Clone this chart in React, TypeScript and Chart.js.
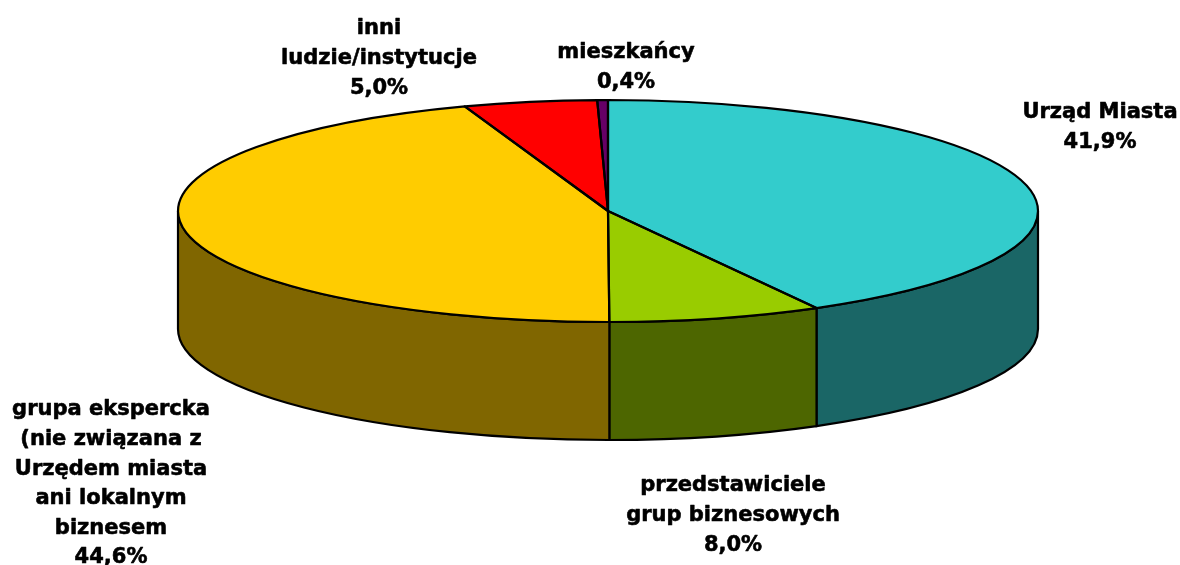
import React, { useEffect, useRef } from "react";
import { Chart, registerables } from "chart.js";

Chart.register(...registerables);

const categories = [
  "Urząd Miasta",
  "przedstawiciele\ngrup biznesowych",
  "grupa ekspercka\n(nie związana z\nUrzędem miasta\nani lokalnym\nbiznesem",
  "inni\nludzie/instytucje",
  "mieszkańcy",
];
const shares = [41.9, 8.0, 44.6, 5.0, 0.4];
const topColors = ["#33CCCC", "#99CC00", "#FFCC00", "#FF0000", "#660066"];
const wallColors = ["#1A6666", "#4D6600", "#806600", "#800000", "#330033"];

const RADIUS_X = 430;
const RADIUS_Y = 111;
const DEPTH = 118;
const FONT = 'bold 21px "DejaVu Sans"';
const LINE_HEIGHT = 29.6;
const labelAnchors = [
  { x: 1100, y: 113 },
  { x: 733, y: 486 },
  { x: 111, y: 410 },
  { x: 379, y: 29 },
  { x: 626, y: 53 },
];

const pie3d = {
  id: "pie3d",
  beforeDatasetDraw(chart: any) {
    const ctx = chart.ctx;
    const arcs = chart.getDatasetMeta(0).data;
    ctx.save();
    ctx.lineWidth = 2.2;
    ctx.strokeStyle = "#000";
    arcs.forEach((arc: any, i: number) => {
      const a = Math.max(arc.startAngle, 0);
      const b = Math.min(arc.endAngle, Math.PI);
      if (b <= a) return;
      ctx.beginPath();
      ctx.ellipse(arc.x, arc.y, RADIUS_X, RADIUS_Y, 0, a, b);
      ctx.ellipse(arc.x, arc.y + DEPTH, RADIUS_X, RADIUS_Y, 0, b, a, true);
      ctx.closePath();
      ctx.fillStyle = wallColors[i];
      ctx.fill();
      ctx.stroke();
    });
    ctx.restore();
    const c = arcs[0];
    ctx.save();
    ctx.translate(c.x, c.y);
    ctx.scale(1, RADIUS_Y / RADIUS_X);
    ctx.translate(-c.x, -c.y);
  },
  afterDatasetDraw(chart: any) {
    const ctx = chart.ctx;
    ctx.restore();
    const arcs = chart.getDatasetMeta(0).data;
    ctx.save();
    ctx.lineWidth = 2.2;
    ctx.strokeStyle = "#000";
    ctx.lineJoin = "round";
    arcs.forEach((arc: any) => {
      ctx.beginPath();
      ctx.moveTo(arc.x, arc.y);
      ctx.ellipse(arc.x, arc.y, RADIUS_X, RADIUS_Y, 0, arc.startAngle, arc.endAngle);
      ctx.closePath();
      ctx.stroke();
    });
    ctx.restore();
  },
  afterDraw(chart: any) {
    const ctx = chart.ctx;
    ctx.save();
    ctx.font = FONT;
    ctx.fillStyle = "#000";
    ctx.strokeStyle = "#000";
    ctx.lineWidth = 0.6;
    ctx.lineJoin = "round";
    ctx.textAlign = "center";
    ctx.textBaseline = "middle";
    categories.forEach((name, i) => {
      const lines = [...name.split("\n"), shares[i].toFixed(1).replace(".", ",") + "%"];
      lines.forEach((line, j) => {
        const y = labelAnchors[i].y + j * LINE_HEIGHT;
        ctx.fillText(line, labelAnchors[i].x, y);
        ctx.strokeText(line, labelAnchors[i].x, y);
      });
    });
    ctx.restore();
  },
};

export default function App() {
  const ref = useRef<HTMLCanvasElement>(null);
  useEffect(() => {
    const chart = new Chart(ref.current!, {
      type: "pie",
      data: {
        labels: categories,
        datasets: [
          {
            data: shares,
            backgroundColor: topColors,
            borderWidth: 0,
            radius: RADIUS_X,
            clip: false,
          } as any,
        ],
      },
      options: {
        responsive: false,
        animation: false,
        layout: { padding: { left: 36, right: 0, top: 0, bottom: 143 } },
        plugins: { legend: { display: false }, tooltip: { enabled: false } },
      },
      plugins: [pie3d],
    });
    return () => chart.destroy();
  }, []);
  return (
    <div style={{ position: "absolute", left: 0, top: 0, width: 1180, height: 565, overflow: "hidden", background: "#fff" }}>
      <canvas ref={ref} width={1180} height={565} style={{ display: "block" }} />
    </div>
  );
}
